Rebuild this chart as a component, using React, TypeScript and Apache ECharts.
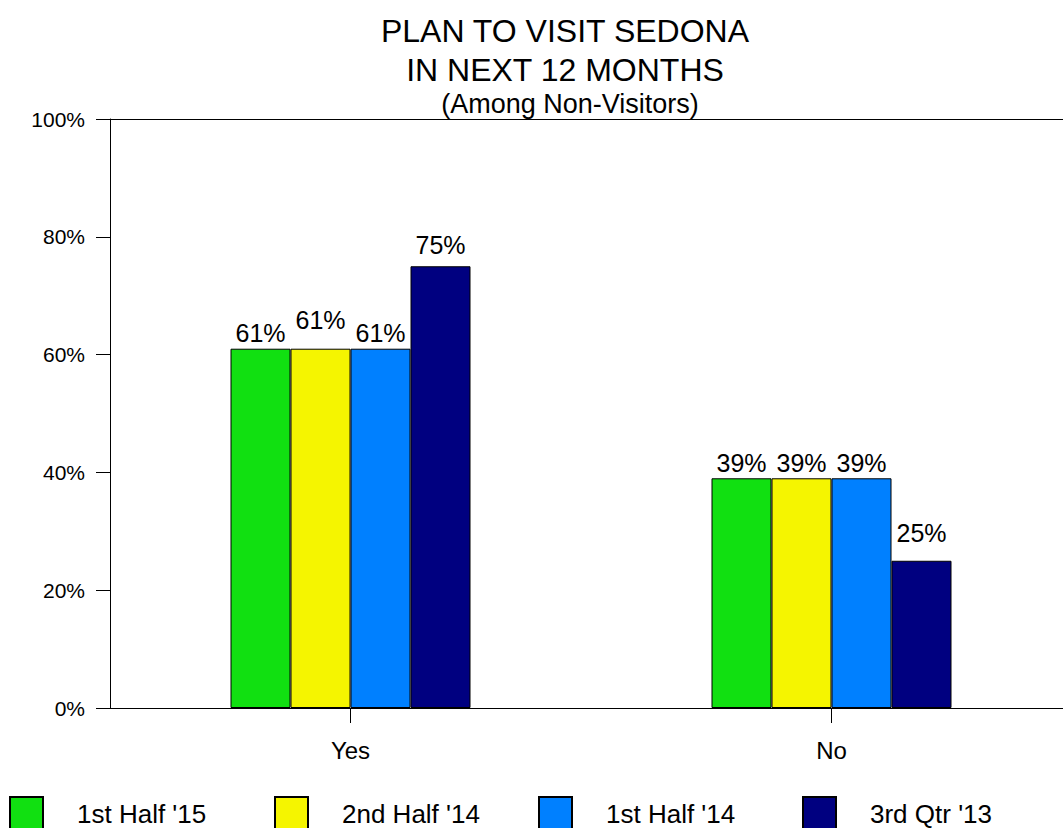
import React, { useEffect, useRef } from "react";
import * as echarts from "echarts";

const categories = ["Yes", "No"];
const seriesNames = ["1st Half '15", "2nd Half '14", "1st Half '14", "3rd Qtr '13"];
const firstHalf15 = [61, 39];
const secondHalf14 = [61, 39];
const firstHalf14 = [61, 39];
const thirdQtr13 = [75, 25];
const yTicks = [0, 20, 40, 60, 80, 100];

const colors = ["#11E011", "#F5F500", "#0080FF", "#000080"];
// per-bar label lift (px) to mimic original label placement
const labelLift = [
  [0, 0],
  [-13, 0],
  [0, 0],
  [-6, -12],
];

export default function App() {
  const ref = useRef<HTMLDivElement>(null);
  useEffect(() => {
    if (!ref.current) return;
    const chart = echarts.init(ref.current, null, { renderer: "svg" });
    const font = "Liberation Sans, Arial, sans-serif";
    const allData = [firstHalf15, secondHalf14, firstHalf14, thirdQtr13];
    const legendLefts = [9, 274, 538, 802];
    chart.setOption({
      animation: false,
      backgroundColor: "#ffffff",
      title: [
        {
          text: "PLAN TO VISIT SEDONA\nIN NEXT 12 MONTHS",
          left: 560,
          top: 6,
          textAlign: "center",
          textStyle: { fontFamily: font, fontSize: 32, fontWeight: "normal", color: "#000", lineHeight: 39 },
        },
        {
          text: "(Among Non-Visitors)",
          left: 565,
          top: 85,
          textAlign: "center",
          textStyle: { fontFamily: font, fontSize: 27, fontWeight: "normal", color: "#000" },
        },
      ],
      legend: seriesNames.map((n, i) => ({
        data: [n],
        left: legendLefts[i],
        top: 796,
        padding: 0,
        itemWidth: 33,
        itemHeight: 34,
        icon: "rect",
        selectedMode: false,
        textStyle: { fontFamily: font, fontSize: 26, color: "#000", padding: [0, 0, 0, 29] },
      })),
      grid: { left: 110, top: 119, width: 962, height: 589 },
      xAxis: [
        {
          type: "category",
          data: categories,
          axisLine: { lineStyle: { color: "#000", width: 1 } },
          axisTick: { show: true, alignWithLabel: true, length: 15, lineStyle: { color: "#000" } },
          axisLabel: { fontFamily: font, fontSize: 24, color: "#000", margin: 30 },
        },
        {
          type: "category",
          data: categories,
          position: "top",
          axisLine: { show: true, lineStyle: { color: "#000", width: 1 } },
          axisTick: { show: false },
          axisLabel: { show: false },
        },
      ],
      yAxis: {
        type: "value",
        min: yTicks[0],
        max: yTicks[yTicks.length - 1],
        interval: yTicks[1] - yTicks[0],
        axisLine: { show: true, lineStyle: { color: "#000", width: 1 } },
        axisTick: { show: true, length: 14, lineStyle: { color: "#000" } },
        splitLine: { show: false },
        axisLabel: { fontFamily: font, fontSize: 21, color: "#000", margin: 25, formatter: "{value}%" },
      },
      series: allData.map((d, i) => ({
        name: seriesNames[i],
        type: "bar",
        xAxisIndex: 0,
        barWidth: 60,
        barGap: "0%",
        itemStyle: { color: colors[i], borderColor: "#000", borderWidth: 1 },
        label: {
          show: true,
          position: "top",
          distance: 3,
          fontFamily: font,
          fontSize: 25,
          color: "#000",
          formatter: "{c}%",
        },
        data: d.map((v, j) => ({ value: v, label: { offset: [0, labelLift[i][j]] } })),
      })),
    });
    return () => chart.dispose();
  }, []);
  return (
    <div
      style={{ position: "absolute", left: 0, top: 0, width: 1063, height: 828, overflow: "hidden", background: "#fff" }}
    >
      <div ref={ref} style={{ width: 1090, height: 828 }} />
    </div>
  );
}
